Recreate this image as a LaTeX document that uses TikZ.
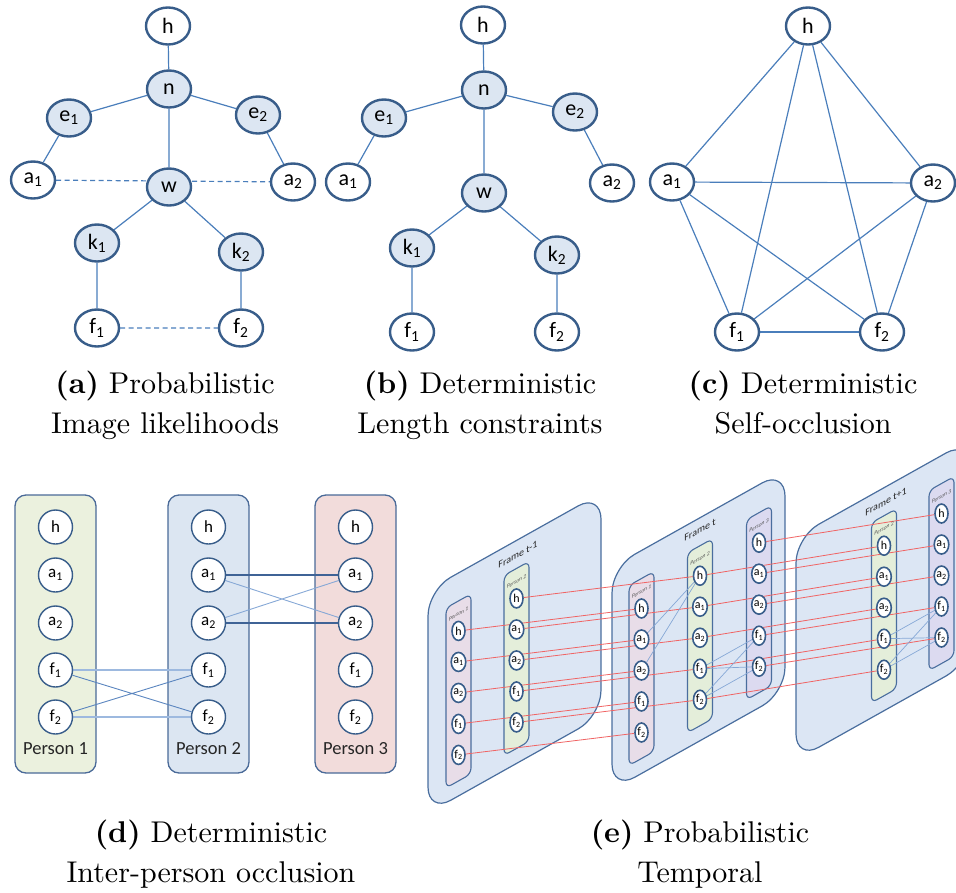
\documentclass[tikz,border=0pt]{standalone}
\usepackage{fontspec}
\setmainfont{lmroman10-regular}[Extension=.otf, BoldFont=lmroman10-bold, ItalicFont=lmroman10-italic]
\newfontfamily\calibri{Carlito}
\usetikzlibrary{shapes.geometric}
\pgfdeclarelayer{bg}
\pgfdeclarelayer{edges}
\pgfsetlayers{bg,edges,main}

\definecolor{nodeborder}{HTML}{385D8A}
\definecolor{nodefill}{HTML}{DCE6F2}
\definecolor{edgeblue}{HTML}{4A7EBB}
\definecolor{boxline}{HTML}{4A6A98}
\definecolor{boxgreen}{HTML}{EBF1DE}
\definecolor{boxblue}{HTML}{DCE6F2}
\definecolor{boxpink}{HTML}{F2DCDB}
\definecolor{lightlink}{HTML}{9DB9DF}
\definecolor{midlink}{HTML}{5A85BF}
\definecolor{darklink}{HTML}{3F6396}
\definecolor{framefill}{HTML}{DCE6F4}
\definecolor{frameline}{HTML}{4A6E9E}
\definecolor{colpink}{HTML}{E8DDE8}
\definecolor{colgreen}{HTML}{E4EEDA}
\definecolor{colviolet}{HTML}{DCDAF0}
\definecolor{trackred}{HTML}{F06464}
\definecolor{occlblue}{HTML}{86A8D6}

% joint name / printed label / vertical position inside a person column
\newcommand\jointlist{h/h/58,a1/a\textsubscript{1}/89,a2/a\textsubscript{2}/120,f1/f\textsubscript{1}/151,f2/f\textsubscript{2}/182}

% one person column inside a slanted frame: frame id, person number, centre, fill
\newcommand\personcol[4]{%
  \begin{pgfonlayer}{bg}
    \draw[colbox, fill=#4] ({#3-12.5},28) rectangle ({#3+12.5},208);
  \end{pgfonlayer}
  \node[persontag] at (#3,41) {Person #2};
  \foreach \j/\lbl/\v in \jointlist {\node[pnode] (#1#2\j) at (#3,\v) {\lbl};}
}

\begin{document}
\begin{tikzpicture}[x=1pt,y=-1pt,
  jw/.style={ellipse, draw=nodeborder, line width=2.4pt, fill=white,
    minimum width=44pt, minimum height=37pt, inner sep=0pt,
    font=\calibri\fontsize{22}{22}\selectfont},
  jf/.style={jw, fill=nodefill},
  link/.style={draw=edgeblue, line width=1.2pt},
  dashlink/.style={link, dash pattern=on 5pt off 3.5pt},
  caption/.style={font=\fontsize{30}{40}\selectfont, align=center, anchor=base},
  pbox/.style={draw=boxline, line width=1.3pt, rounded corners=11pt},
  dnode/.style={circle, draw=nodeborder, line width=1.4pt, fill=white,
    minimum size=34pt, inner sep=0pt, font=\calibri\fontsize{17}{17}\selectfont},
  plabel/.style={font=\calibri\fontsize{18.5}{18.5}\selectfont, text=black!85},
  framebox/.style={draw=frameline, fill=framefill, line width=1.2pt, rounded corners=26pt},
  colbox/.style={draw=frameline, line width=1.1pt, rounded corners=6pt},
  pnode/.style={ellipse, draw=nodeborder, line width=1.6pt, fill=white,
    minimum width=13pt, minimum height=19pt, inner sep=0pt,
    font=\calibri\fontsize{12}{12}\selectfont},
  persontag/.style={transform shape, font=\calibri\itshape\fontsize{5.5}{5.5}\selectfont, text=black!70},
  frametitle/.style={transform shape, font=\calibri\fontsize{10}{10}\selectfont, text=black!85},
  track/.style={draw=trackred, line width=0.8pt},
  occl/.style={draw=occlblue, line width=0.7pt}]
\useasboundingbox (0,0) rectangle (956,892);

% ---------- (a) image likelihoods ----------
\node[jw] (ah) at (168,26) {h};
\node[jf] (an) at (169,89) {n};
\node[jf] (ae1) at (69,118) {e\textsubscript{1}};
\node[jf] (ae2) at (258,115) {e\textsubscript{2}};
\node[jw] (aa1) at (33,180) {a\textsubscript{1}};
\node[jf] (aw) at (169,187) {w};
\node[jw] (aa2) at (293,182) {a\textsubscript{2}};
\node[jf] (ak1) at (97,243) {k\textsubscript{1}};
\node[jf] (ak2) at (241,252) {k\textsubscript{2}};
\node[jw] (af1) at (97,328) {f\textsubscript{1}};
\node[jw] (af2) at (241,328) {f\textsubscript{2}};
\begin{pgfonlayer}{edges}
  \draw[link] (ah)--(an) (an)--(ae1) (an)--(ae2) (ae1)--(aa1) (ae2)--(aa2)
    (an)--(aw) (aw)--(ak1) (aw)--(ak2) (ak1)--(af1) (ak2)--(af2);
  \draw[dashlink] (aa1)--(aa2) (af1)--(af2);
\end{pgfonlayer}
\node[caption] (capa) at (165,433) {\textbf{(a)} Probabilistic\\Image likelihoods};

% ---------- (b) length constraints ----------
\node[jw] (bh) at (483,25) {h};
\node[jf] (bn) at (484,90) {n};
\node[jf] (be1) at (384,118) {e\textsubscript{1}};
\node[jf] (be2) at (575,112) {e\textsubscript{2}};
\node[jw] (ba1) at (348,182) {a\textsubscript{1}};
\node[jf] (bw) at (484,193) {w};
\node[jw] (ba2) at (612,183) {a\textsubscript{2}};
\node[jf] (bk1) at (412,248) {k\textsubscript{1}};
\node[jf] (bk2) at (557,255) {k\textsubscript{2}};
\node[jw] (bf1) at (412,332) {f\textsubscript{1}};
\node[jw] (bf2) at (557,332) {f\textsubscript{2}};
\begin{pgfonlayer}{edges}
  \draw[link] (bh)--(bn) (bn)--(be1) (bn)--(be2) (be1)--(ba1) (be2)--(ba2)
    (bn)--(bw) (bw)--(bk1) (bw)--(bk2) (bk1)--(bf1) (bk2)--(bf2);
\end{pgfonlayer}
\node[caption] (capb) at (480,433) {\textbf{(b)} Deterministic\\Length constraints};

% ---------- (c) self-occlusion ----------
\node[jw] (ch) at (808,26) {h};
\node[jw] (ca1) at (672,182) {a\textsubscript{1}};
\node[jw] (ca2) at (933,183) {a\textsubscript{2}};
\node[jw] (cf1) at (737,332) {f\textsubscript{1}};
\node[jw] (cf2) at (882,332) {f\textsubscript{2}};
\begin{pgfonlayer}{edges}
  \foreach \p/\q in {h/a1,h/a2,h/f1,h/f2,a1/a2,a1/f1,a1/f2,a2/f1,a2/f2,f1/f2}
    \draw[link] (c\p)--(c\q);
\end{pgfonlayer}
\node[caption] (capc) at (803,433) {\textbf{(c)} Deterministic\\Self-occlusion};

% ---------- (d) inter-person occlusion ----------
\begin{pgfonlayer}{bg}
  \draw[pbox, fill=boxgreen] (15,495) rectangle (96,773);
  \draw[pbox, fill=boxblue] (168,495) rectangle (249,773);
  \draw[pbox, fill=boxpink] (315,495) rectangle (396,773);
\end{pgfonlayer}
\foreach \k/\x in {1/55.5,2/208.5,3/355.5} {
  \node[dnode] (d\k h) at (\x,527) {h};
  \node[dnode] (d\k a1) at (\x,575) {a\textsubscript{1}};
  \node[dnode] (d\k a2) at (\x,623) {a\textsubscript{2}};
  \node[dnode] (d\k f1) at (\x,670) {f\textsubscript{1}};
  \node[dnode] (d\k f2) at (\x,717) {f\textsubscript{2}};
  \node[plabel] (dlab\k) at (\x,749) {Person \k};
}
\begin{pgfonlayer}{edges}
  \draw[draw=lightlink, line width=1.8pt] (d1f1)--(d2f1) (d1f2)--(d2f2);
  \draw[draw=midlink, line width=0.9pt] (d1f1)--(d2f2) (d1f2)--(d2f1);
  \draw[draw=darklink, line width=1.2pt] (d2a1)--(d3a1) (d2a2)--(d3a2);
  \draw[draw=occlblue, line width=0.9pt] (d2a1)--(d3a2) (d2a2)--(d3a1);
\end{pgfonlayer}
\node[caption] (capd) at (211,882) {\textbf{(d)} Deterministic\\Inter-person occlusion};

% ---------- (e) temporal ----------
\begin{scope}[shift={(428,590)}, yslant=0.56]
  \begin{pgfonlayer}{bg}\draw[framebox] (0,0) rectangle (173,223);\end{pgfonlayer}
  \node[frametitle] (tA) at (90,15) {Frame t-1};
  \personcol{A}{1}{30.5}{colpink}
  \personcol{A}{2}{88.5}{colgreen}
\end{scope}
\begin{scope}[shift={(612,567)}, yslant=0.56]
  \begin{pgfonlayer}{bg}\draw[framebox] (0,0) rectangle (173,223);\end{pgfonlayer}
  \node[frametitle] (tB) at (88,12) {Frame t};
  \personcol{B}{1}{29.5}{colpink}
  \personcol{B}{2}{88}{colgreen}
  \personcol{B}{3}{147}{colviolet}
\end{scope}
\begin{scope}[shift={(796,537)}, yslant=0.56]
  \begin{pgfonlayer}{bg}\draw[framebox] (0,0) rectangle (173,223);\end{pgfonlayer}
  \node[frametitle] (tC) at (90,15) {Frame t+1};
  \personcol{C}{2}{88}{colgreen}
  \personcol{C}{3}{145.5}{colviolet}
\end{scope}
\begin{pgfonlayer}{edges}
  \foreach \j in {h,a1,a2,f1,f2} {
    \draw[track] (A1\j)--(B1\j);
    \draw[track] (A2\j)--(B2\j);
    \draw[track] (B2\j)--(C2\j);
    \draw[track] (B3\j)--(C3\j);
  }
  \draw[occl] (B2h)--(B1a1) (B2h)--(B1a2);
  \foreach \p in {f1,f2} \foreach \q in {f1,f2} {
    \draw[occl] (B2\p)--(B3\q);
    \draw[occl] (C2\p)--(C3\q);
  }
\end{pgfonlayer}
\node[caption] (cape) at (700,882) {\textbf{(e)} Probabilistic\\Temporal};
\end{tikzpicture}
\end{document}
